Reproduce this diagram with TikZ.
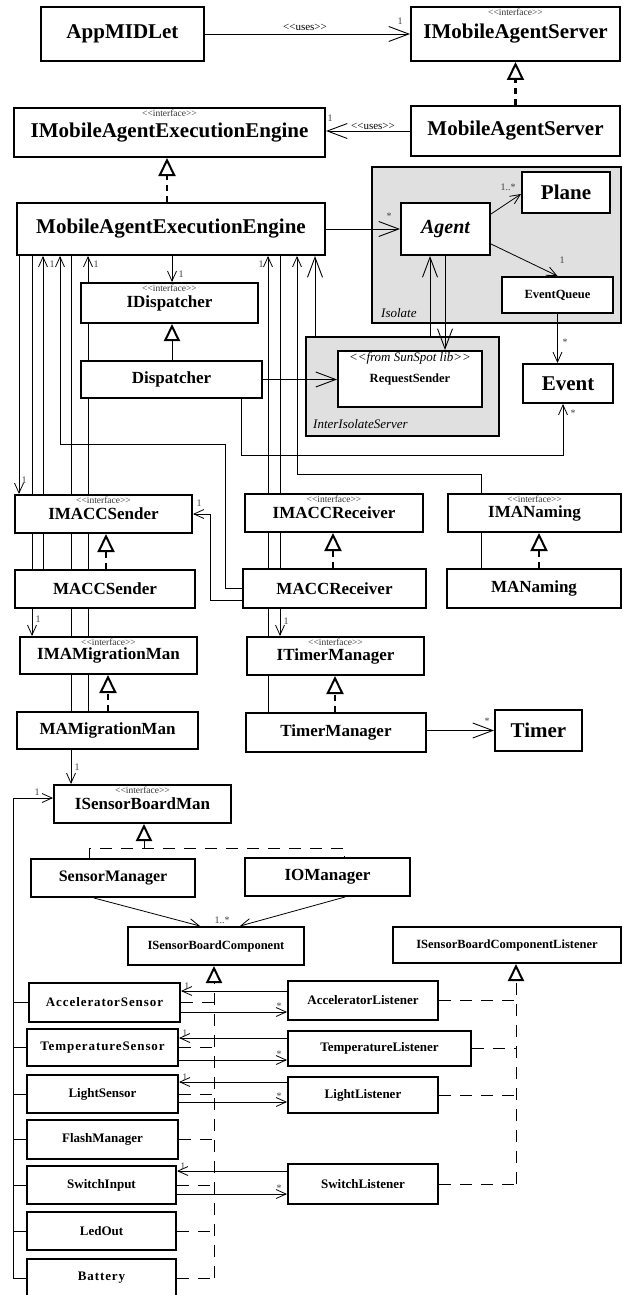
\documentclass[tikz,border=0pt]{standalone}
\usepackage{fontspec}
\setmainfont{Liberation Serif}
\usetikzlibrary{arrows.meta}

\pgfdeclarelayer{back}
\pgfdeclarelayer{wires}
\pgfsetlayers{back,wires,main}

\newcommand{\umlst}[1]{<\kern0pt<#1>\kern0pt>}

\tikzset{
  uml/.style={draw, line width=2pt, fill=white, inner sep=0pt, align=center},
  big/.style={font=\bfseries\fontsize{21}{24}\selectfont},
  mid/.style={font=\bfseries\fontsize{17}{20}\selectfont},
  small/.style={font=\bfseries\fontsize{13}{15}\selectfont},
  spaced/.style={font=\bfseries\fontsize{13}{15}\selectfont\addfontfeature{LetterSpace=7}},
  tiny/.style={font=\bfseries\fontsize{12.5}{14}\selectfont},
  sz/.style 2 args={minimum width=#1pt, minimum height=#2pt},
  stereo/.style={font=\fontsize{9.5}{10}\selectfont, inner sep=0pt, text=black!80},
  iface/.style={label={[stereo, anchor=north, yshift=-3pt]north:{\umlst{interface}}}},
  pkg/.style={draw, line width=2pt, fill=black!12, inner sep=0pt},
  pkgname/.style={font=\itshape\fontsize{13}{15}\selectfont, inner sep=0pt},
  note/.style={font=\fontsize{11}{12}\selectfont, inner sep=0pt},
  mult/.style={font=\fontsize{10}{11}\selectfont, inner sep=0pt, text=black!75},
  wire/.style={line width=0.8pt},
  assoc/.style={wire, -{Straight Barb[length=10pt, width=9pt, line width=0.8pt]}},
  bigassoc/.style={wire, -{Straight Barb[length=20pt, width=15pt, line width=0.9pt]}},
  real/.style={line width=2.2pt, dash pattern=on 6pt off 5pt,
    -{Triangle[open, length=18pt, width=17pt, line width=2pt]}},
  gen/.style={line width=1pt, -{Triangle[open, length=17pt, width=16pt, line width=2pt]}},
  ldash/.style={line width=0.9pt, dash pattern=on 12pt off 9pt},
  lreal/.style={ldash, -{Triangle[open, length=17pt, width=16pt, line width=2pt]}},
}

\begin{document}
\begin{tikzpicture}[x=1pt, y=-1pt]
\useasboundingbox (0,0) rectangle (622,1295);

% Packages
\begin{pgfonlayer}{back}
\node[pkg, sz={249}{156}] (isolate) at (496.5,245) {};
\node[pkg, sz={193}{99}] (iis) at (402.5,386.5) {};
\end{pgfonlayer}
\node[pkgname, anchor=west] (isolatename) at (381,313) {Isolate};
\node[pkgname, anchor=west] (iisname) at (313,424) {InterIsolateServer};

% Server and engine
\node[uml, big, sz={163}{54}] (app) at (122.5,34) {AppMIDLet};
\node[uml, big, iface, sz={209}{54}] (imas) at (515.5,34) {IMobileAgentServer};
\node[uml, big, iface, sz={311}{49}] (imaee) at (169.5,132.5) {IMobileAgentExecutionEngine};
\node[uml, big, sz={209}{50}] (mas) at (515.5,131) {MobileAgentServer};
\node[uml, big, sz={308}{52}] (maee) at (171,229) {MobileAgentExecutionEngine};

% Isolate contents
\node[uml, font=\bfseries\itshape\fontsize{20}{24}\selectfont, sz={89}{52}] (agent) at (445.5,229) {Agent};
\node[uml, big, sz={88}{41}] (plane) at (566,192.5) {Plane};
\node[uml, tiny, sz={111}{36}] (evq) at (557.5,295) {EventQueue};
\node[uml, tiny, sz={144}{56},
  label={[pkgname, anchor=north, yshift=-2pt]north:{\umlst{from SunSpot lib}}}] (rs) at (410,379) {RequestSender};
\node[uml, big, sz={90}{39}] (event) at (568,383.5) {Event};

% Dispatcher
\node[uml, mid, iface, sz={177}{40}] (idisp) at (169.5,303) {IDispatcher};
\node[uml, mid, sz={181}{37}] (disp) at (171.5,379.5) {Dispatcher};

% Communication, migration, timers
\node[uml, mid, iface, sz={177}{38}] (imaccs) at (103.5,514) {IMACCSender};
\node[uml, mid, iface, sz={178}{38}] (imaccr) at (334,513) {IMACCReceiver};
\node[uml, mid, iface, sz={173}{38}] (imanam) at (534.5,513) {IMANaming};
\node[uml, mid, sz={180}{38}] (maccs) at (105,589) {MACCSender};
\node[uml, mid, sz={183}{39}] (maccr) at (334.5,588.5) {MACCReceiver};
\node[uml, mid, sz={174}{39}] (manam) at (534,588.5) {MANaming};
\node[uml, mid, iface, sz={177}{37}] (imamm) at (108.5,655.5) {IMAMigrationMan};
\node[uml, mid, iface, sz={177}{38}] (itm) at (335.5,656) {ITimerManager};
\node[uml, mid, sz={181}{37}] (mamm) at (107.5,730.5) {MAMigrationMan};
\node[uml, mid, sz={180}{39}] (tm) at (336,732.5) {TimerManager};
\node[uml, big, sz={87}{41}] (timer) at (538.5,730.5) {Timer};

% Sensor board
\node[uml, mid, iface, sz={177}{38}] (isbm) at (142.5,804) {ISensorBoardMan};
\node[uml, font=\bfseries\fontsize{16}{18}\selectfont, sz={164}{38}] (sm) at (113,878) {SensorManager};
\node[uml, mid, sz={165}{38}] (iom) at (327.5,877) {IOManager};
\node[uml, tiny, sz={176}{38}] (isbc) at (216,946) {ISensorBoardComponent};
\node[uml, tiny, sz={228}{36}] (isbcl) at (507,945) {ISensorBoardComponentListener};

% Sensors and listeners
\node[uml, spaced, sz={151}{39}] (acs) at (104.5,1002.5) {AcceleratorSensor};
\node[uml, small, sz={150}{39}] (acl) at (363,1000.5) {AcceleratorListener};
\node[uml, spaced, sz={151}{37}] (tes) at (102.5,1047.5) {TemperatureSensor};
\node[uml, small, sz={183}{35}] (tel) at (379.5,1048.5) {TemperatureListener};
\node[uml, small, sz={151}{38}] (lis) at (102.5,1094) {LightSensor};
\node[uml, small, sz={150}{36}] (lil) at (363,1095) {LightListener};
\node[uml, small, sz={151}{39}] (fm) at (102.5,1139.5) {FlashManager};
\node[uml, small, sz={149}{38}] (swi) at (101.5,1185) {SwitchInput};
\node[uml, small, sz={150}{40}] (swl) at (363,1184) {SwitchListener};
\node[uml, small, sz={149}{38}] (led) at (101.5,1231) {LedOut};
\node[uml, spaced, sz={149}{38}] (bat) at (101.5,1278) {Battery};

\begin{pgfonlayer}{wires}
% Server
\draw[bigassoc] (app) -- (imas);
\draw[real] (mas) -- (imas);
\draw[bigassoc] (mas.west) -- (mas.west -| imaee.east);
\draw[real] (maee.north -| 167,0) -- (imaee.south -| 167,0);

% Agent
\draw[bigassoc] (maee) -- (agent);
\draw[assoc] ([yshift=-12pt]agent.north east) -- ([yshift=20pt]plane.south west);
\draw[assoc] ([yshift=-15pt]agent.east) -- (evq.north);
\draw[assoc] (evq.south) -- (evq.south |- event.north);
\draw[bigassoc] (iis.north -| 430,0) -- (agent.south -| 430,0);
\draw[bigassoc] (agent.south -| 445,0) -- (rs.north -| 445,0);
\draw[bigassoc] (iis.north -| 315,0) -- (maee.south -| 315,0);

% Dispatcher
\draw[assoc] (maee.south -| 172,0) -- (idisp.north -| 172,0);
\draw[gen] (disp.north -| 172,0) -- (idisp.south -| 172,0);
\draw[bigassoc] (disp.east) -- (disp.east -| rs.west);
\draw[assoc] (disp.south -| 241,0) |- (563,455) -- (event.south -| 563,0);

% Engine links, left
\draw[assoc] (maee.south -| 19,0) -- (imaccs.north -| 19,0);
\draw[assoc] (maee.south -| 32,0) -- (imamm.north -| 32,0);
\draw[assoc] (maccs.north -| 43,0) -- (maee.south -| 43,0);
\draw[assoc] (maccr.west) -| (225,444) -| (maee.south -| 60,0);
\draw[assoc] (maee.south -| 71,0) -- (isbm.north -| 71,0);
\draw[assoc] (mamm.north -| 88,0) -- (maee.south -| 88,0);
\draw[assoc] ([yshift=-11.5pt]maccr.west) -| (210,514) -- (imaccs.east);

% Engine links, right
\draw[assoc] (tm.north -| 268,0) -- (maee.south -| 268,0);
\draw[assoc] (maee.south -| 280,0) -- (itm.north -| 280,0);
\draw[assoc] (manam.north -| 481,0) |- (297,474) -- (maee.south -| 297,0);
\draw[bigassoc] (tm.east |- timer.west) -- (timer.west);

% Realizations
\draw[real] (maccs.north -| 106,0) -- (imaccs.south -| 106,0);
\draw[real] (maccr.north -| 333,0) -- (imaccr.south -| 333,0);
\draw[real] (manam.north -| 539,0) -- (imanam.south -| 539,0);
\draw[real] (mamm.north -| 108,0) -- (imamm.south -| 108,0);
\draw[real] (tm.north -| 335,0) -- (itm.south -| 335,0);

% Sensor board tree
\draw[assoc] (bat.west) -| (13,798) -- ([yshift=6pt]isbm.west);
\foreach \s in {acs,tes,lis,fm,swi,led}
  \draw[wire] (\s.west) -- (\s.west -| 13,0);
\draw[gen] (144,848) -- (isbm.south -| 144,0);
\draw[ldash] (sm.north -| 89,0) |- (344,848) -- (iom.north -| 344,0);
\draw[assoc] ([xshift=-19pt]sm.south) -- ([xshift=-16pt]isbc.north);
\draw[assoc] ([xshift=17.5pt]iom.south) -- ([xshift=24pt]isbc.north);

% Components and listeners
\draw[lreal] (bat.east -| 214,0) -- (isbc.south -| 214,0);
\foreach \s in {acs,tes,lis,fm,swi,led,bat}
  \draw[ldash] (\s.east) -- (\s.east -| 214,0);
\draw[lreal] (swl.east -| 516,0) -- (isbcl.south -| 516,0);
\foreach \s in {acl,tel,lil,swl}
  \draw[ldash] (\s.east) -- (\s.east -| 516,0);
\foreach \s/\l/\ya/\yb in {acs/acl/991/1012, tes/tel/1038/1060, lis/lil/1082/1102, swi/swl/1171/1194}{
  \draw[assoc] (\l.west |- 0,\ya) -- (\s.east |- 0,\ya)
    node[mult, anchor=south west, xshift=3pt, yshift=1pt] (one\s) {1};
  \draw[assoc] (\s.east |- 0,\yb) -- (\l.west |- 0,\yb)
    node[mult, anchor=south east, xshift=-5pt, yshift=2pt] (many\s) {*};
}
\end{pgfonlayer}

% Labels
\node[note] (uses1) at (305,27) {\umlst{uses}};
\node[mult] (m1) at (400,21) {1};
\node[note] (uses2) at (373,126) {\umlst{uses}};
\node[mult] (m2) at (330,118) {1};
\node[mult] (m3) at (389,216) {*};
\node[mult] (m4) at (508,187) {1..*};
\node[mult] (m5) at (562,260) {1};
\node[mult] (m6) at (565,342) {*};
\node[mult] (m7) at (573,413) {*};
\node[mult] (m8) at (181,274) {1};
\node[mult] (m9) at (24,480) {1};
\node[mult] (m10) at (38,619) {1};
\node[mult] (m11) at (52,264) {1};
\node[mult] (m12) at (96,264) {1};
\node[mult] (m13) at (77,767) {1};
\node[mult] (m14) at (199,503) {1};
\node[mult] (m15) at (261,264) {1};
\node[mult] (m16) at (286,621) {1};
\node[mult] (m17) at (487,721) {*};
\node[mult] (m18) at (37,792) {1};
\node[mult] (m19) at (222,920) {1..*};
\end{tikzpicture}
\end{document}
